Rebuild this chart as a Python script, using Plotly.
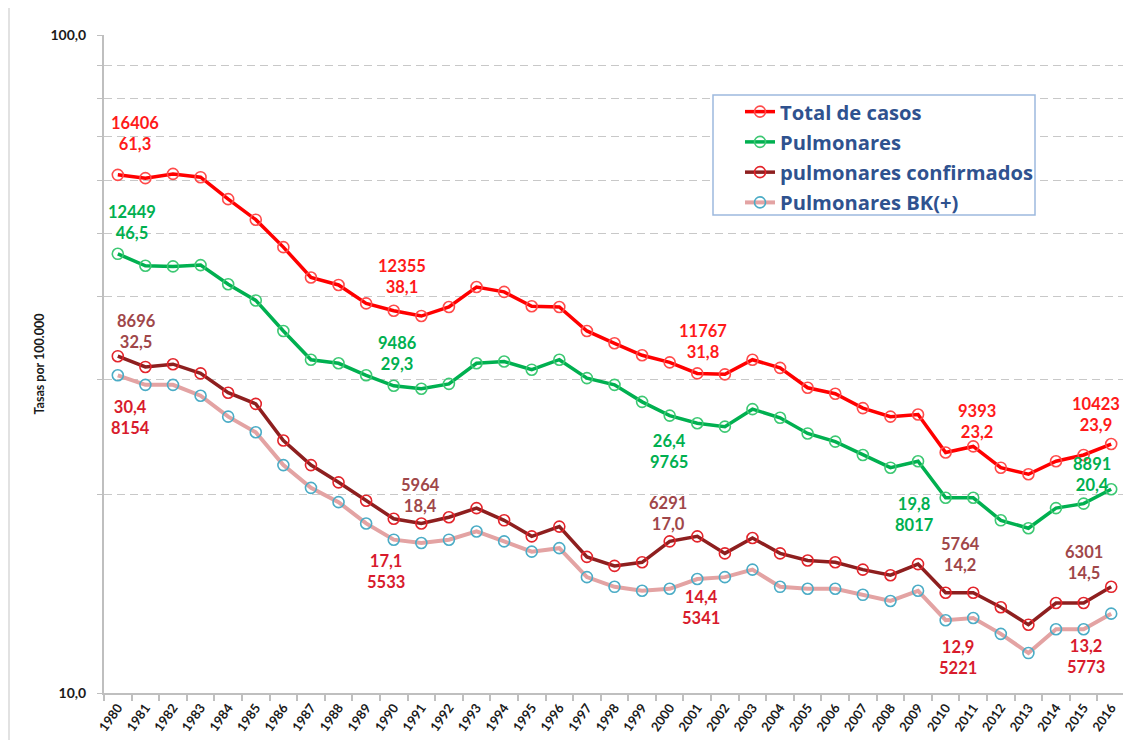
import plotly.graph_objects as go
import math

# ---------------- data ----------------
years = [str(y) for y in range(1980, 2017)]

total = [61.3, 60.6, 61.5, 60.8, 56.3, 52.4, 47.6, 42.8, 41.7, 39.1,
         38.1, 37.4, 38.6, 41.4, 40.7, 38.7, 38.6, 35.5, 34.0, 32.6,
         31.8, 30.6, 30.5, 32.1, 31.2, 29.1, 28.5, 27.1, 26.3, 26.5,
         23.2, 23.7, 22.0, 21.5, 22.5, 23.0, 23.9]
pulm = [46.5, 44.6, 44.5, 44.7, 41.8, 39.5, 35.5, 32.1, 31.7, 30.4,
        29.3, 29.0, 29.5, 31.7, 31.9, 31.0, 32.1, 30.1, 29.4, 27.7,
        26.4, 25.7, 25.4, 27.0, 26.2, 24.8, 24.1, 23.0, 22.0, 22.5,
        19.8, 19.8, 18.3, 17.8, 19.1, 19.4, 20.4]
conf = [32.5, 31.3, 31.6, 30.6, 28.6, 27.5, 24.2, 22.2, 20.9, 19.6,
        18.4, 18.1, 18.5, 19.1, 18.3, 17.3, 17.9, 16.1, 15.6, 15.8,
        17.0, 17.3, 16.3, 17.2, 16.3, 15.9, 15.8, 15.4, 15.1, 15.7,
        14.2, 14.2, 13.5, 12.7, 13.7, 13.7, 14.5]
bk = [30.4, 29.4, 29.4, 28.3, 26.3, 24.9, 22.2, 20.5, 19.5, 18.1,
      17.1, 16.9, 17.1, 17.6, 17.0, 16.4, 16.6, 15.0, 14.5, 14.3,
      14.4, 14.9, 15.0, 15.4, 14.5, 14.4, 14.4, 14.1, 13.8, 14.3,
      12.9, 13.0, 12.3, 11.5, 12.5, 12.5, 13.2]

label_years = ["1980", "1990", "2000", "2010", "2016"]
total_cases = [16406, 12355, 11767, 9393, 10423]
pulm_cases = [12449, 9486, 9765, 8017, 8891]
conf_cases = [8696, 5964, 6291, 5764, 6301]
bk_cases = [8154, 5533, 5341, 5221, 5773]

names = ["Total de casos", "Pulmonares", "pulmonares confirmados", "Pulmonares BK(+)"]

y_tickvals = [10, 20, 30, 40, 50, 60, 70, 80, 90, 100]
y_ticktext = ["10,0", "", "", "", "", "", "", "", "", "100,0"]

# ---------------- styles ----------------
FONT = "Lato"
# the page body has an 8px margin: the figure is laid out 8px up/left
OFF = 8
styles = [
    dict(line="#FF0000", marker="#FF4A4A", label="#FF1A1A", lw=3.5),
    dict(line="#00B050", marker="#3DC873", label="#00B050", lw=3.5),
    dict(line="#8E1F1F", marker="#E3242B", label="#A0474A", lw=3.5),
    dict(line="#E3A3A3", marker="#4BACC6", label="#D81B2C", lw=4),
]
# label offsets (px, dy downward) and whether rate is printed first
label_layout = [
    [(17, -41, False), (8, -34, False), (33, -21, False), (31, -31, False), (-15, -30, False)],
    [(14, -31, False), (4, -32, False), (-1, 36, True), (-31, 17, True), (-19, -15, False)],
    [(19, -25, False), (27, -23, False), (-2, -28, False), (15, -38, False), (-27, -24, False)],
    [(13, 42, True), (-8, 32, True), (31, 19, True), (12, 37, True), (-25, 43, True)],
]

series = [total, pulm, conf, bk]
cases = [total_cases, pulm_cases, conf_cases, bk_cases]

fig = go.Figure()
for i, (vals, st) in enumerate(zip(series, styles)):
    fig.add_trace(go.Scatter(
        x=years, y=vals, name=names[i], mode="lines+markers",
        line=dict(color=st["line"], width=st["lw"]),
        marker=dict(symbol="circle-open", size=11, color=st["marker"],
                    line=dict(color=st["marker"], width=1.6)),
        legendgroup=f"g{i}",
    ))

# invisible trace for right-hand axis
fig.add_trace(go.Scatter(x=[years[0]], y=[None], yaxis="y2", showlegend=False,
                         hoverinfo="skip", mode="lines"))

def fmt(v):
    return f"{v:.1f}".replace(".", ",")

for i, vals in enumerate(series):
    for j, yr in enumerate(label_years):
        idx = years.index(yr)
        v = vals[idx]
        dx, dy, rate_first = label_layout[i][j]
        txt = f"{fmt(v)}<br>{cases[i][j]}" if rate_first else f"{cases[i][j]}<br>{fmt(v)}"
        fig.add_annotation(
            x=idx, y=math.log10(v), xref="x", yref="y", text=txt,
            showarrow=False, xanchor="center", yanchor="middle",
            xshift=dx, yshift=-dy, align="center",
            font=dict(family=FONT, size=16.5, color=styles[i]["label"], weight="bold"),
        )

# legend frame
fig.add_shape(type="rect", xref="paper", yref="paper",
              x0=(713 - 104) / 1021, x1=(1035 - 104) / 1021,
              y0=(693 - 215) / 658, y1=(693 - 95) / 658,
              line=dict(color="#9DB9DE", width=1.5), fillcolor="white", layer="above")
# outer chart border on the left
fig.add_shape(type="line", xref="paper", yref="paper",
              x0=(9 - 104) / 1021, x1=(9 - 104) / 1021, y0=-0.1, y1=1.06,
              line=dict(color="#D9D9D9", width=1.5))

fig.update_layout(
    width=1131, height=740,
    margin=dict(l=104 - OFF, r=6 + OFF, t=35 - OFF, b=47 + OFF, autoexpand=False),
    paper_bgcolor="white", plot_bgcolor="white",
    font=dict(family=FONT),
    showlegend=True,
    legend=dict(x=(740 - 104) / 1021, y=(693 - 92) / 658, xanchor="left", yanchor="top",
                bgcolor="rgba(0,0,0,0)", borderwidth=0, tracegroupgap=1,
                font=dict(family="Open Sans", size=20.2, color="#2F528F", weight="bold")),
    xaxis=dict(type="category", tickson="boundaries", ticks="outside", ticklen=6,
               tickcolor="#BFBFBF", tickwidth=1.5, showline=True, linecolor="#BFBFBF",
               linewidth=2, showgrid=False, tickangle=-55, automargin=False,
               tickfont=dict(family=FONT, size=13, color="#1A1A1A", weight="bold"),
               range=[-0.5, len(years) - 0.5]),
    yaxis=dict(type="log", range=[1, 2], tickvals=y_tickvals, ticktext=y_ticktext,
               ticks="outside", ticklen=5, tickcolor="#BFBFBF", showline=True,
               linecolor="#BFBFBF", linewidth=2, showgrid=True, gridcolor="#C8C8C8",
               gridwidth=1.3, griddash="8px,5px", zeroline=False, automargin=False,
               ticklabelstandoff=8,
               tickfont=dict(family=FONT, size=14, color="#1A1A1A", weight="bold"),
               title=dict(text="Tasas por 100.000", standoff=3,
                          font=dict(family=FONT, size=12.5, color="#1A1A1A", weight="bold"))),
    yaxis2=dict(overlaying="y", side="right", range=[0, 9], tickvals=list(range(10)),
                showticklabels=False, ticks="outside", ticklen=5, tickcolor="#D0D0D0",
                showline=True, linecolor="#D0D0D0", linewidth=1.5, showgrid=False,
                zeroline=False),
)

fig.write_html("out.html")
